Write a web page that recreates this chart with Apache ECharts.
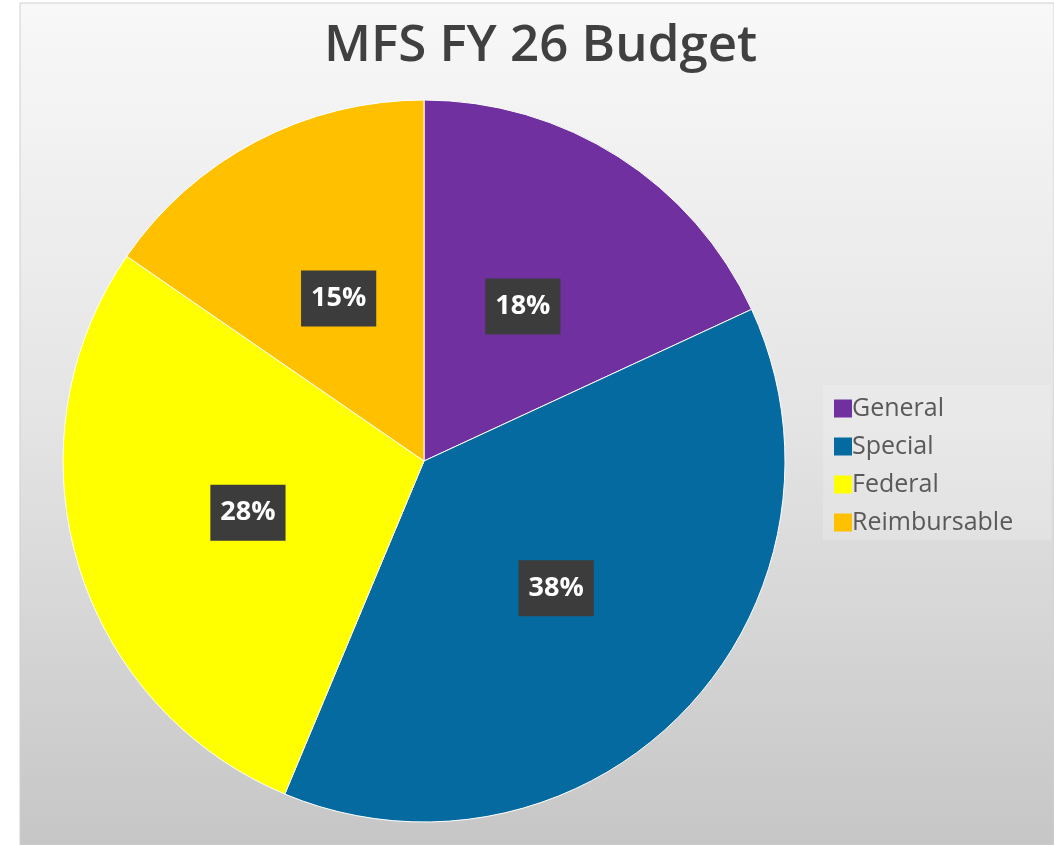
<!DOCTYPE html>
<html>
<head>
<meta charset="utf-8">
<script src="https://cdn.jsdelivr.net/npm/echarts@6/dist/echarts.min.js"></script>
<style>
  html, body { margin: 0; padding: 0; background: #fff; }
  #chart { width: 1054px; height: 845px; }
</style>
</head>
<body>
<div id="chart"></div>
<script>
// data
var categories = ["General", "Special", "Federal", "Reimbursable"];
var shares = [18.1, 38.2, 28.3, 15.4];
var colors = ["#7030a0", "#056a9f", "#ffff00", "#ffc000"];

var chart = echarts.init(document.getElementById("chart"));

var option = {
  backgroundColor: "#ffffff",
  graphic: [
    {
      // panel background
      type: "rect",
      z: -10,
      shape: { x: 20, y: 3, width: 1034, height: 842 },
      style: {
        fill: new echarts.graphic.LinearGradient(0, 0, 0, 1, [
          { offset: 0, color: "#f8f8f8" },
          { offset: 0.5, color: "#e4e4e4" },
          { offset: 1, color: "#c6c6c6" }
        ]),
        stroke: "#d0d0d0",
        lineWidth: 1
      }
    },
    {
      // legend box
      type: "rect",
      z: -5,
      shape: { x: 823, y: 385, width: 228, height: 155 },
      style: { fill: "rgba(255,255,255,0.18)" }
    }
  ],
  title: {
    text: "MFS FY 26 Budget",
    left: 319,
    top: 16,
    textStyle: {
      fontFamily: "Open Sans",
      fontWeight: 600,
      fontSize: 51,
      color: "#404040"
    }
  },
  legend: {
    orient: "vertical",
    left: 829,
    top: 391,
    itemWidth: 18,
    itemHeight: 18,
    itemGap: 13,
    icon: "rect",
    data: categories,
    itemStyle: { borderWidth: 0 },
    textStyle: {
      fontFamily: "Open Sans",
      fontSize: 25,
      color: "#595959",
      padding: [0, 0, 0, -5]
    }
  },
  series: [
    {
      type: "pie",
      center: [424, 461],
      radius: [0, 361],
      startAngle: 90,
      clockwise: true,
      avoidLabelOverlap: false,
      itemStyle: { borderColor: "#ffffff", borderWidth: 1 },
      label: {
        position: "inside",
        formatter: function (p) { return Math.round(p.percent) + "%"; },
        color: "#ffffff",
        fontFamily: "Open Sans",
        fontWeight: "bold",
        fontSize: 27,
        lineHeight: 34,
        backgroundColor: "#3c3c3c",
        padding: [11, 10]
      },
      labelLine: { show: false },
      emphasis: { disabled: true },
      data: categories.map(function (c, i) {
        return { name: c, value: shares[i], itemStyle: { color: colors[i] } };
      })
    }
  ]
};

chart.setOption(option);
</script>
</body>
</html>
